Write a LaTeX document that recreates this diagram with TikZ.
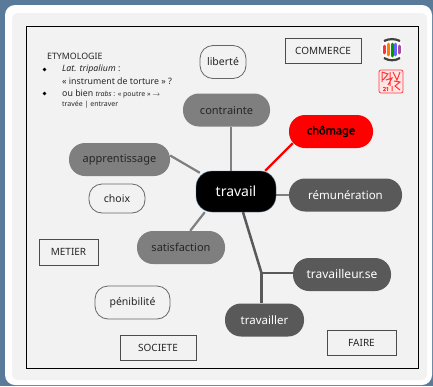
\documentclass[tikz,border=0pt]{standalone}
\usepackage{fontspec}
\setmainfont{Noto Sans}
\newfontfamily\grasfont[FakeBold=2.5]{Noto Sans}
\usetikzlibrary{backgrounds}
\definecolor{fond}{HTML}{5A7A9A}
\definecolor{panneau}{HTML}{F2F2F2}
\definecolor{sombre}{HTML}{595959}
\definecolor{moyen}{HTML}{7F7F7F}
\tikzset{
    bulle/.style={rounded corners=16pt, font=\fontsize{11}{13}\selectfont, inner sep=0pt},
    foncee/.style={bulle, fill=sombre, text=white},
    moyenne/.style={bulle, fill=moyen, text=black!85},
    vide/.style={bulle, rounded corners=13pt, draw=black!60, line width=0.8pt, fill=panneau, text=black!85, font=\fontsize{10.5}{12}\selectfont},
    theme/.style={draw=black!70, line width=0.7pt, fill=panneau, inner sep=0pt, text=black!85, font=\fontsize{10}{12}\selectfont},
    etym/.style={anchor=west, inner sep=0pt, text=black!85, font=\fontsize{8.8}{10}\selectfont},
    lien/.style={draw=moyen, line width=2.2pt},
    liensombre/.style={draw=sombre, line width=2.5pt}
}
\begin{document}
\begin{tikzpicture}[x=1pt, y=-1pt]
\useasboundingbox (0,0) rectangle (433,386);
\begin{scope}[on background layer]
\fill[fond] (0,0) rectangle (433,386);
\fill[white, rounded corners=10pt] (5,5) rectangle (432,385);
\fill[panneau, rounded corners=6pt] (12,13) rectangle (427,380);
\draw[black, line width=0.9pt] (26,26.5) rectangle (418,368);
\end{scope}

\node[vide, minimum width=46pt, minimum height=33pt] (liberte) at (223,62) {liberté};
\node[moyenne, minimum width=87pt, minimum height=33pt] (contrainte) at (226.5,110) {contrainte};
\node[bulle, fill=red, text=black, minimum width=84pt, minimum height=33pt, font=\fontsize{11}{13}\grasfont] (chomage) at (331,131.5) {chômage};
\node[bulle, fill=black, draw=fond, text=white, rounded corners=16pt, minimum width=80pt, minimum height=41pt, font=\fontsize{14}{16}\selectfont] (travail) at (236,191.5) {travail};
\node[foncee, minimum width=113pt, minimum height=33pt, font=\fontsize{11.5}{13}\selectfont] (remuneration) at (345.5,195) {rémunération};
\node[moyenne, minimum width=101pt, minimum height=33pt] (apprentissage) at (119.5,159.5) {apprentissage};
\node[vide, minimum width=56pt, minimum height=29pt] (choix) at (117,198.5) {choix};
\node[moyenne, minimum width=88pt, minimum height=33pt] (satisfaction) at (181,247.5) {satisfaction};
\node[foncee, minimum width=98pt, minimum height=33pt, font=\fontsize{12}{14}\selectfont] (travailleur) at (342,274.5) {travailleur.se};
\node[foncee, minimum width=79pt, minimum height=33pt, font=\fontsize{11.5}{13}\selectfont] (travailler) at (264.5,320) {travailler};
\node[vide, minimum width=75pt, minimum height=33pt] (penibilite) at (132.5,302.5) {pénibilité};

\node[theme, minimum width=76pt, minimum height=25pt] (commerce) at (323,50.5) {COMMERCE};
\node[theme, minimum width=59pt, minimum height=26pt] (metier) at (68.5,252) {METIER};
\node[theme, minimum width=76pt, minimum height=25pt] (societe) at (158,348) {SOCIETE};
\node[theme, minimum width=69pt, minimum height=25pt] (faire) at (361.5,342.5) {FAIRE};

\coordinate (jonction) at (261.5,273);

\begin{scope}[on background layer]
\draw[lien] ([xshift=-5pt]travail.north) -- ([xshift=4.5pt]contrainte.south);
\draw[lien] ([yshift=4pt]apprentissage.east) -- ([xshift=4pt,yshift=-2pt]travail.north west);
\draw[lien] ([xshift=-35pt]satisfaction.north east) -- ([xshift=9pt]travail.south west);
\draw[draw=red, line width=2.2pt] ([xshift=-11pt]travail.north east) -- ([xshift=4pt,yshift=5pt]chomage.south west);
\draw[lien] (travail.east |- remuneration.west) -- (remuneration.west);
\draw[liensombre] ([xshift=7pt]travail.south) -- (jonction);
\draw[liensombre] (jonction) -- (jonction -| travailleur.west);
\draw[liensombre] (jonction) -- (jonction |- travailler.north);
\end{scope}

\node[etym] (titre) at (47,56) {ETYMOLOGIE};
\node[etym] (ligneA) at (62,69) {\textit{Lat. tripalium} :};
\node[etym] (ligneB) at (62,81) {« instrument de torture » ?};
\node[etym] (ligneC) at (62,94) {ou bien {\fontsize{7}{8}\selectfont\textit{trabs} : « poutre » $\rightarrow$}};
\node[etym, font=\fontsize{7}{8}\selectfont] (ligneD) at (62,105) {travée | entraver};
\fill[black] (44.5,69.5) circle (1.8);
\fill[black] (44.5,93.5) circle (1.8);

\fill[white] (392,49.5) circle (11);
\draw[black!75, line width=2.2pt] (384,41) .. controls (389,38.5) and (395,38.5) .. (400,41);
\draw[black!75, line width=2.2pt] (384,58) .. controls (389,61) and (395,61) .. (400,58);
\draw[red!80, line width=3pt, line cap=round] (384.5,46) -- (384.5,53);
\draw[orange, line width=3pt, line cap=round] (388.5,44) -- (388.5,55);
\draw[green!60!black, line width=3pt, line cap=round] (392,44) -- (392,56);
\draw[blue!60, line width=3pt, line cap=round] (395.5,44) -- (395.5,55);
\draw[violet!70, line width=3pt, line cap=round] (399.5,46) -- (399.5,53);

\draw[red!75, fill=red!10, rounded corners=2pt, line width=0.8pt] (379,70) rectangle (403,93);
\draw[red!80, line width=1pt] (382,72) -- (382,82) (382,72) -- (388,74) -- (383,80) (390,72) -- (390,86) (393,72) -- (397,80) -- (400,72) (386,80) -- (392,78) -- (388,85) (394,81) -- (400,82) -- (395,86) -- (400,90) (392,86) -- (392,91);
\node[inner sep=0pt, text=red!80, font=\fontsize{5.5}{6}\grasfont] (vingtun) at (386,89) {21};
\end{tikzpicture}
\end{document}
